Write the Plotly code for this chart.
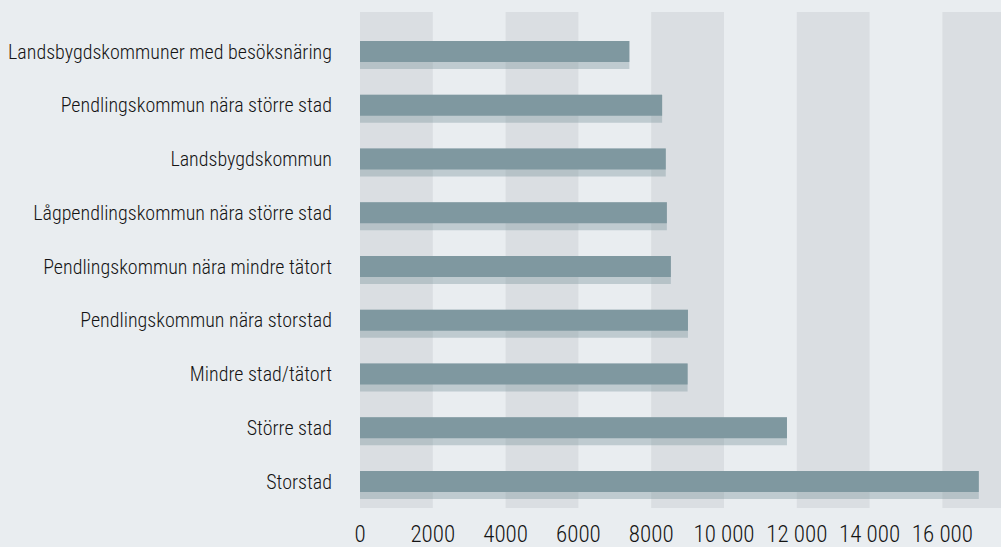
import plotly.graph_objects as go

BG = "rgb(233, 237, 240)"
BAND = "rgb(218, 222, 226)"
BAR = "rgb(127, 152, 160)"
SHADOW = "rgba(127, 152, 160, 0.4)"
TEXT = "#141414"
FONT = "Roboto Condensed, Open Sans Condensed, DejaVu Sans Condensed, Liberation Sans Narrow, sans-serif"

categories = [
    "Landsbygdskommuner med besöksnäring",
    "Pendlingskommun nära större stad",
    "Landsbygdskommun",
    "Lågpendlingskommun nära större stad",
    "Pendlingskommun nära mindre tätort",
    "Pendlingskommun nära storstad",
    "Mindre stad/tätort",
    "Större stad",
    "Storstad",
]
values = [7400, 8300, 8400, 8430, 8540, 9010, 9000, 11730, 17000]

tick_values = [0, 2000, 4000, 6000, 8000, 10000, 12000, 14000, 16000]
tick_labels = ["0", "2000", "4000", "6000", "8000", "10 000", "12 000", "14 000", "16 000"]
band_starts = [0, 4000, 8000, 12000, 16000]
band_width = 2000

fig = go.Figure()

# shadow strip under each bar
fig.add_trace(
    go.Bar(
        x=values,
        y=categories,
        orientation="h",
        marker=dict(color=SHADOW, line_width=0),
        width=0.52,
        offset=-0.195,
        hoverinfo="skip",
    )
)
fig.add_trace(
    go.Bar(
        x=values,
        y=categories,
        orientation="h",
        marker=dict(color=BAR, line_width=0),
        width=0.39,
        offset=-0.195,
        hoverinfo="skip",
    )
)

for start in band_starts:
    fig.add_shape(
        type="rect",
        xref="x",
        yref="paper",
        x0=start,
        x1=start + band_width,
        y0=0,
        y1=1,
        fillcolor=BAND,
        line_width=0,
        layer="below",
    )

fig.update_xaxes(
    range=[0, 17610],
    tickvals=tick_values,
    ticktext=tick_labels,
    tickangle=0,
    automargin=False,
    showgrid=False,
    zeroline=False,
    showline=False,
    ticks="",
    ticklabelstandoff=10,
    tickfont=dict(size=23, color=TEXT, family=FONT, weight=300),
)
fig.update_yaxes(
    type="category",
    categoryorder="array",
    categoryarray=categories,
    range=[8.493, -0.735],
    automargin=False,
    showgrid=False,
    zeroline=False,
    showline=False,
    ticks="",
    ticklabelstandoff=27,
    tickfont=dict(size=20, color=TEXT, family=FONT, weight=300),
)

fig.update_layout(
    width=1001,
    height=547,
    barmode="overlay",
    showlegend=False,
    paper_bgcolor=BG,
    plot_bgcolor=BG,
    margin=dict(l=360, r=0, t=12, b=39),
    font=dict(family=FONT, color=TEXT),
)

fig.write_html(
    "out.html",
    config={"displayModeBar": False},
    post_script="document.body.style.margin='0'; document.body.style.background='rgb(233, 237, 240)';",
)
